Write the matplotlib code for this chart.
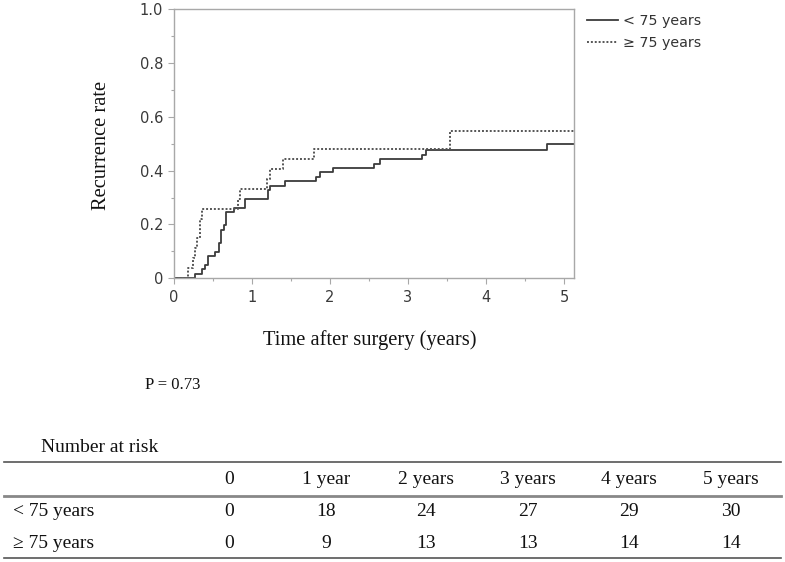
import matplotlib
matplotlib.use("Agg")
import matplotlib.pyplot as plt
from matplotlib.lines import Line2D
from matplotlib.ticker import MultipleLocator, FixedLocator

# ---------------- data ----------------
follow_up_end = 5.12

young_times = [0, 0.27, 0.37, 0.40, 0.44, 0.53, 0.58, 0.61, 0.65, 0.67, 0.77, 0.92,
               1.21, 1.24, 1.43, 1.83, 1.87, 2.04, 2.56, 2.64, 3.18, 3.23, 4.78]
young_rate = [0, 0.016, 0.033, 0.049, 0.082, 0.098, 0.131, 0.180, 0.197, 0.246, 0.262, 0.295,
              0.328, 0.344, 0.361, 0.377, 0.393, 0.410, 0.426, 0.443, 0.459, 0.475, 0.500]

old_times = [0, 0.19, 0.25, 0.28, 0.30, 0.34, 0.37, 0.83, 0.85, 1.20, 1.23, 1.40, 1.80, 3.54]
old_rate = [0, 0.037, 0.074, 0.111, 0.148, 0.222, 0.259, 0.296, 0.333, 0.370, 0.407, 0.444, 0.481, 0.546]

series_labels = ["< 75 years", "\u2265 75 years"]

y_ticks = [0, 0.2, 0.4, 0.6, 0.8, 1.0]
y_tick_labels = ["0", "0.2", "0.4", "0.6", "0.8", "1.0"]
x_ticks = [0, 1, 2, 3, 4, 5]
x_tick_labels = ["0", "1", "2", "3", "4", "5"]

p_value_text = "P = 0.73"

risk_title = "Number at risk"
risk_columns = ["0", "1 year", "2 years", "3 years", "4 years", "5 years"]
risk_rows = ["< 75 years", "\u2265 75 years"]
risk_young = [0, 18, 24, 27, 29, 30]
risk_old = [0, 9, 13, 13, 14, 14]

# ---------------- figure ----------------
W, H = 785, 562
fig = plt.figure(figsize=(W / 100, H / 100), dpi=100)


def fx(px):
    return px / W


def fy(py):
    return 1 - py / H


ax = fig.add_axes([fx(173.5), fy(278.3), fx(573.5) - fx(173.5), fy(9) - fy(278.3)])

ax.step(young_times + [follow_up_end], young_rate + [young_rate[-1]], where="post",
        color="#3c3c3c", lw=1.3, label=series_labels[0])
ax.step(old_times + [follow_up_end], old_rate + [old_rate[-1]], where="post",
        color="#555555", lw=1.4, linestyle=(0, (1, 1)), label=series_labels[1])

ax.set_xlim(0, follow_up_end)
ax.set_ylim(0, 1.0)
ax.xaxis.set_major_locator(FixedLocator(x_ticks))
ax.set_xticklabels(x_tick_labels)
ax.yaxis.set_major_locator(FixedLocator(y_ticks))
ax.set_yticklabels(y_tick_labels)
ax.xaxis.set_minor_locator(MultipleLocator(0.5))
ax.yaxis.set_minor_locator(MultipleLocator(0.1))

spine_col = "#a8a8a8"
for s in ax.spines.values():
    s.set_color(spine_col)
    s.set_linewidth(1.0)

ax.tick_params(axis="both", which="major", direction="out", length=4.5, width=0.8,
               color=spine_col, labelcolor="#3a3a3a", labelsize=10.5)
ax.tick_params(axis="both", which="minor", direction="out", length=2.5, width=0.8,
               color=spine_col)
ax.tick_params(axis="x", which="major", pad=4)
ax.tick_params(axis="y", which="major", pad=3)

# axis labels (serif)
serif = ["Liberation Serif", "DejaVu Serif"]
fig.text(fx(102), fy(145), "Recurrence rate", rotation=90, ha="center", va="center",
         family=serif, fontsize=14.8, color="#111111")
fig.text(fx(370), fy(340), "Time after surgery (years)", ha="center", va="center",
         family=serif, fontsize=14.8, color="#111111")

# legend
leg = ax.legend(loc="upper left", bbox_to_anchor=(fx(587), fy(14)),
                bbox_transform=fig.transFigure, frameon=False, fontsize=10.3,
                handlelength=2.2, handletextpad=0.3, labelspacing=0.55,
                borderaxespad=0, borderpad=0)
for t in leg.get_texts():
    t.set_color("#333333")

# P value
fig.text(fx(145), fy(385), p_value_text, ha="left", va="center",
         family=serif, fontsize=12, color="#111111")

# ---------------- number at risk table ----------------
tfs = 14
col_x = [229, 326, 426, 528, 629, 731]
fig.text(fx(41), fy(447), risk_title, ha="left", va="center", family=serif,
         fontsize=tfs, color="#111111")

for py, lw, col in [(462, 1.2, "#555555"), (496, 2.0, "#888888"), (558, 1.2, "#555555")]:
    fig.add_artist(Line2D([fx(4), fx(781)], [fy(py), fy(py)], transform=fig.transFigure,
                          color=col, lw=lw))

for cx, lab in zip(col_x, risk_columns):
    fig.text(fx(cx), fy(480), lab, ha="center", va="center", family=serif,
             fontsize=tfs, color="#111111")

for row_y, row_label, vals in [(512, risk_rows[0], risk_young), (543, risk_rows[1], risk_old)]:
    fig.text(fx(13), fy(row_y), row_label, ha="left", va="center", family=serif,
             fontsize=tfs, color="#111111")
    for cx, v in zip(col_x, vals):
        fig.text(fx(cx), fy(row_y), str(v), ha="center", va="center", family=serif,
                 fontsize=tfs, color="#111111")

fig.savefig("out.png", dpi=100)
